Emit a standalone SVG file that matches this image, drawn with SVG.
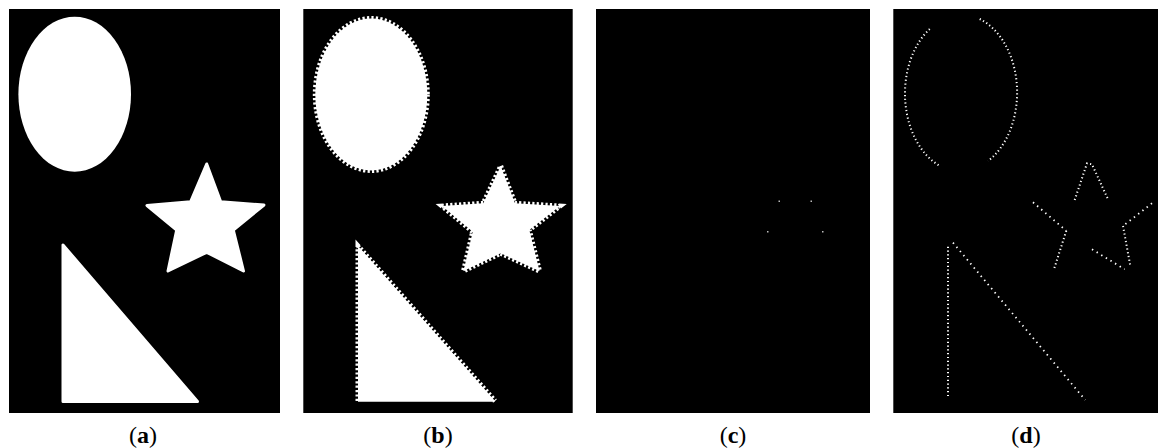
<svg xmlns="http://www.w3.org/2000/svg" width="1158" height="448" viewBox="0 0 1158 448">
  <style>
    .bg { fill: #000; }
    .solid { fill: #fff; stroke: #fff; stroke-width: 3; stroke-linejoin: round; }
    .jag { fill: #fff; stroke: #fff; stroke-width: 5; stroke-dasharray: 2.2 2.2; }
    .dots { fill: none; stroke: #fff; stroke-width: 2; stroke-dasharray: 1.2 2.6; }
    .dotsw { fill: none; stroke: #fff; stroke-width: 1.8; stroke-dasharray: 1.4 4; }
    .pix { fill: #bbb; }
    .lbl { font-family: "Liberation Serif", "DejaVu Serif", serif; font-size: 24px; fill: #000; text-anchor: middle; }
    .b { font-weight: bold; }
  </style>
  <rect x="0" y="0" width="1158" height="448" fill="#fff"/>

  <g id="panel-a">
    <rect class="bg" x="9" y="9" width="271" height="404"/>
    <ellipse cx="74.7" cy="94.2" rx="56.3" ry="77.5" fill="#fff"/>
    <polygon class="solid" points="206.7,164 220.7,201.7 264,205 233.3,230 243.5,271 206.7,252.3 168,271 176.7,230 147,205.5 190.7,201.7"/>
    <polygon class="solid" points="63,245 63,401.5 197.5,401.5"/>
    <text class="lbl" x="143" y="443">(<tspan class="b">a</tspan>)</text>
  </g>

  <g id="panel-b">
    <rect class="bg" x="303.3" y="9" width="269.4" height="404"/>
    <ellipse class="jag" cx="371.3" cy="94.5" rx="56" ry="76"/>
    <polygon class="jag" points="500.7,166 515,203.3 560,206 529.3,230 539.5,271 500.7,253.3 463.5,271 472.7,231.7 442,206 483.3,203.3"/>
    <polygon points="358,246 358,401.7 495,401.7" fill="#fff"/>
    <path class="jag" d="M358,401 L358,246 L495,401" fill="none"/>
    <text class="lbl" x="438" y="443">(<tspan class="b">b</tspan>)</text>
  </g>

  <g id="panel-c">
    <rect class="bg" x="596" y="9" width="274" height="404"/>
    <rect class="pix" x="778.5" y="200.5" width="1.5" height="1.5"/>
    <rect class="pix" x="810.5" y="200.5" width="1.5" height="1.5"/>
    <rect class="pix" x="767" y="231" width="1.5" height="1.5"/>
    <rect class="pix" x="822" y="231" width="1.5" height="1.5"/>
    <text class="lbl" x="733" y="443">(<tspan class="b">c</tspan>)</text>
  </g>

  <g id="panel-d">
    <rect class="bg" x="893.3" y="9" width="264.7" height="404"/>
    <path class="dots" d="M979.7,19 A56,78 0 0 1 988,161"/>
    <path class="dots" d="M929.7,29 A56,78 0 0 0 940,166"/>
    <path class="dots" d="M948,246.7 L948,398.3"/>
    <path class="dotsw" d="M953,242.7 L1085.3,400"/>
    <path class="dots" d="M1074.7,200 L1087,163.3 L1092,164.3 L1108,199.3"/>
    <path class="dotsw" d="M1033,202.3 L1066.3,230.7"/>
    <path class="dots" d="M1066.3,230.7 L1054,269.3"/>
    <path class="dotsw" d="M1152,203.3 L1123,226"/>
    <path class="dots" d="M1123,226 L1130.3,265.7"/>
    <path class="dotsw" d="M1092,249.3 L1124.7,269.3"/>
    <text class="lbl" x="1026" y="443">(<tspan class="b">d</tspan>)</text>
  </g>
</svg>
